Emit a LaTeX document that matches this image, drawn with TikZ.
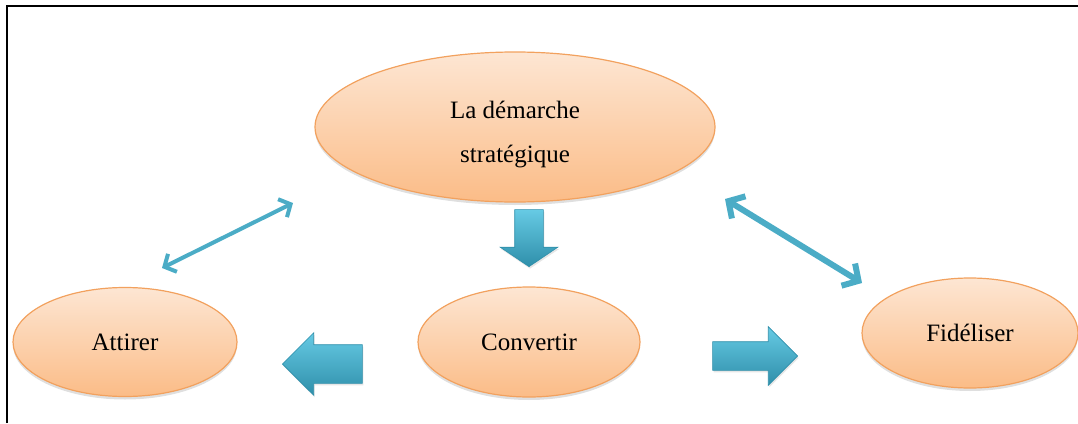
\documentclass[tikz,border=0pt]{standalone}
\usepackage{fontspec}
\setmainfont{Liberation Serif}
\usetikzlibrary{arrows.meta,shapes.geometric,shapes.arrows,shadows}
\definecolor{or_bord}{HTML}{F2A15E}
\definecolor{or_haut}{HTML}{FDE6D3}
\definecolor{or_bas}{HTML}{FBBC87}
\definecolor{bleu_fl}{HTML}{4BACC6}
\definecolor{bleu_clair}{HTML}{66CAE4}
\definecolor{bleu_fonce}{HTML}{2F8FAA}
\tikzset{
  txt/.style = {align=center, inner sep=0pt, font=\fontsize{25}{44}\selectfont},
  ell_o/.style = {txt, ellipse, draw=or_bord, line width=1.2pt,
    top color=or_haut, bottom color=or_bas,
    drop shadow={opacity=0.25, shadow xshift=0pt, shadow yshift=-3pt}},% ellipse orange
  fl_d/.style = {bleu_fl, line width=#1, line cap=round, line join=round,
    {Straight Barb[length=9pt,width=20pt]}-{Straight Barb[length=9pt,width=20pt]}},% fleche double
  fl_b/.style = {single arrow, draw=bleu_fonce, line width=0.6pt, anchor=tip,
    top color=bleu_clair, bottom color=bleu_fonce,
    drop shadow={opacity=0.2, shadow xshift=1pt, shadow yshift=-2pt}}% fleche bloc
}
\begin{document}
\begin{tikzpicture}[x=1pt, y=-1pt]
\useasboundingbox (0,0) rectangle (1078,423);
\draw[line width=2.2pt] (7,423) -- (7,6) -- (1078,6);% cadre

\node[ell_o, minimum width=400, minimum height=150] (demarche) at (515,127) {};
\node[txt] (demarche_txt) at (515,135) {La démarche\\stratégique};
\node[ell_o, minimum width=224, minimum height=109] (attirer) at (125,342) {Attirer};
\node[ell_o, minimum width=222, minimum height=110] (convertir) at (529,342) {Convertir};
\node[ell_o, minimum width=216, minimum height=110] (fideliser) at (970,333) {Fidéliser};

% fleches doubles
\coordinate (g1) at (162,268);
\coordinate (g2) at (293,203);
\coordinate (d1) at (725,199);
\coordinate (d2) at (862,283);
\draw[fl_d=4pt] (g1) -- (g2);
\draw[fl_d=6pt, {Straight Barb[length=12pt,width=26pt]}-{Straight Barb[length=12pt,width=26pt]}] (d1) -- (d2);

% fleches blocs
\node[fl_b, shape border rotate=270, minimum height=57, inner xsep=14pt, inner ysep=0pt,
  single arrow head extend=14.5pt, single arrow tip angle=112] (bas) at (529,267) {};
\node[fl_b, shape border rotate=180, minimum height=80, inner xsep=0pt, inner ysep=19pt,
  single arrow head extend=12pt] (gauche) at (282,364) {};
\node[fl_b, shape border rotate=0, minimum height=85, inner xsep=0pt, inner ysep=14pt,
  single arrow head extend=15pt] (droite) at (798,356) {};
\end{tikzpicture}
\end{document}
